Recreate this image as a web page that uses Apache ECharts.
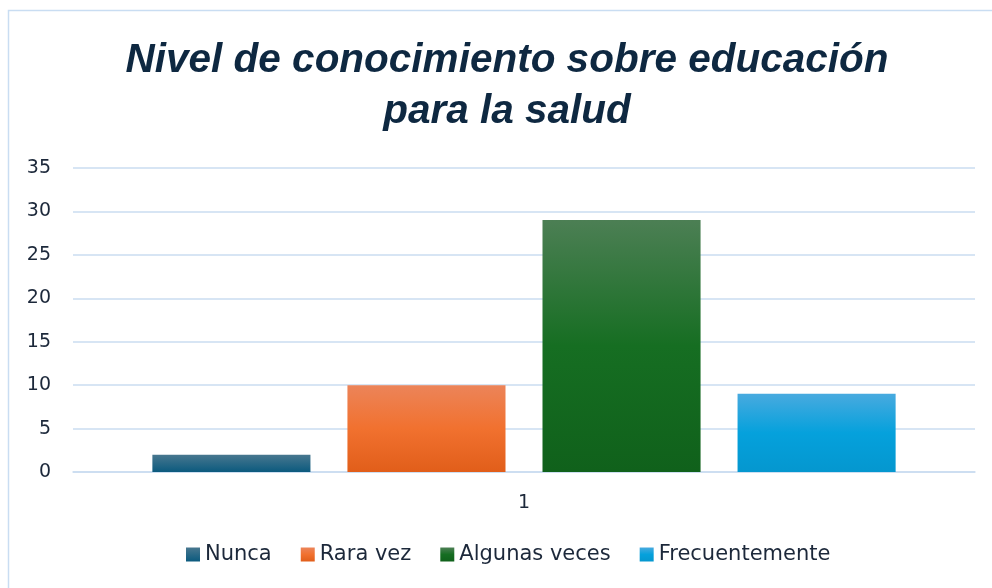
<!DOCTYPE html>
<html>
<head>
<meta charset="utf-8">
<script src="https://cdn.jsdelivr.net/npm/echarts@6/dist/echarts.min.js"></script>
<style>html,body{margin:0;padding:0;background:#fff}#c{width:992px;height:588px}</style>
</head>
<body>
<div id="c"></div>
<script>
var titleText = 'Nivel de conocimiento sobre educación\npara la salud';
var categories = ['1'];
var seriesNames = ['Nunca', 'Rara vez', 'Algunas veces', 'Frecuentemente'];
var nunca = [2];
var raraVez = [10];
var algunasVeces = [29];
var frecuentemente = [9];
var yTicks = [0, 5, 10, 15, 20, 25, 30, 35];

var gradients = [
  ['#48778f', '#0b5a7e'],
  ['#ec8459', '#f1712f', '#e15e1a'],
  ['#4c7f54', '#166e22', '#10611b'],
  ['#48aadf', '#05a1dc', '#0597cf']
];
function grad(c) {
  var stops = c.map(function (col, i) { return { offset: i / (c.length - 1), color: col }; });
  if (c.length === 3) stops[1].offset = 0.5;
  return new echarts.graphic.LinearGradient(0, 0, 0, 1, stops);
}
var values = [nunca, raraVez, algunasVeces, frecuentemente];
var textColor = '#1c283a';
var chart = echarts.init(document.getElementById('c'), null, { renderer: 'canvas' });
chart.setOption({
  backgroundColor: '#fff',
  animation: false,
  title: {
    text: titleText,
    left: 502,
    textAlign: 'center',
    top: 30,
    textStyle: {
      fontFamily: 'Liberation Sans',
      fontSize: 40.5,
      fontWeight: 'bold',
      fontStyle: 'italic',
      color: '#0e2841',
      lineHeight: 51
    }
  },
  graphic: [{
    type: 'rect',
    shape: { x: 8.5, y: 10.5, width: 1100, height: 700 },
    style: { fill: 'none', stroke: '#c9ddf2', lineWidth: 1.5 },
    silent: true, z: -1
  }],
  legend: {
    bottom: 18,
    left: 186,
    padding: [5, 0],
    itemWidth: 14,
    itemHeight: 14,
    itemGap: 29,
    icon: 'rect',
    textStyle: { fontFamily: 'DejaVu Sans', fontSize: 21, color: textColor },
    data: seriesNames
  },
  grid: { left: 73, right: 17, top: 168, bottom: 116 },
  xAxis: {
    type: 'category',
    data: categories,
    axisLine: { show: true, lineStyle: { color: '#cadcf0', width: 1.5 } },
    axisTick: { show: false },
    axisLabel: { fontFamily: 'DejaVu Sans', fontSize: 19, color: textColor, margin: 22 }
  },
  yAxis: {
    type: 'value',
    min: yTicks[0],
    max: yTicks[yTicks.length - 1],
    interval: yTicks[1] - yTicks[0],
    axisLine: { show: false },
    axisTick: { show: false },
    splitLine: { lineStyle: { color: '#cadcf0', width: 1.5 } },
    axisLabel: { fontFamily: 'DejaVu Sans', fontSize: 19, color: textColor, margin: 22 }
  },
  series: seriesNames.map(function (n, i) {
    return {
      name: n,
      type: 'bar',
      data: values[i],
      barGap: '23.4%',
      barCategoryGap: '17.6%',
      itemStyle: { color: grad(gradients[i]) }
    };
  })
});
</script>
</body>
</html>
